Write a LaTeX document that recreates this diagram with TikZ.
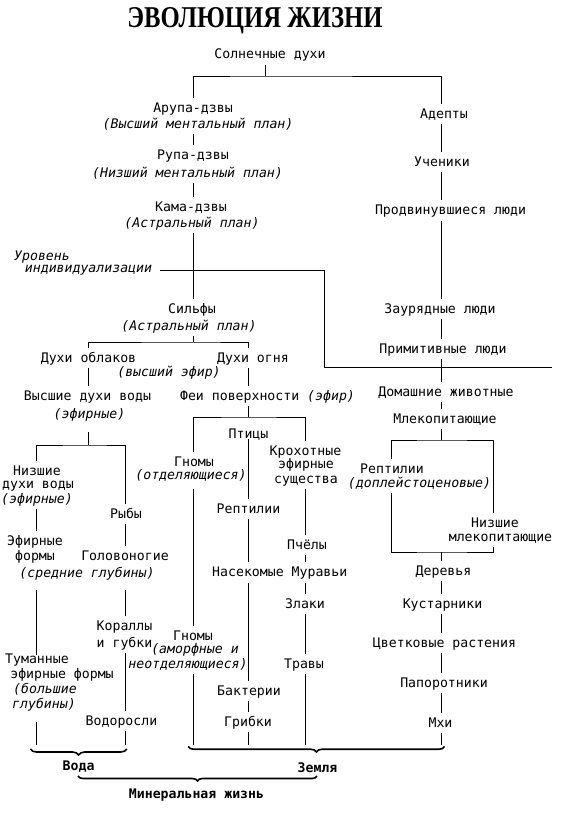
\documentclass[tikz,border=0pt]{standalone}
\usepackage{fontspec}
\usepackage{graphicx}
\usetikzlibrary{decorations.pathreplacing}
\newfontfamily\monofam{DejaVu Sans Mono}[ItalicFont={DejaVu Sans Mono Oblique},BoldFont={DejaVu Sans Mono Bold}]
\newfontfamily\ttlfam{Liberation Serif}[BoldFont={Liberation Serif Bold}]
\newcommand\lblR{\monofam\fontsize{13.2}{15}\selectfont}
\newcommand\lblI{\monofam\itshape\fontsize{13.2}{15}\selectfont}
\newcommand\lblB{\monofam\bfseries\fontsize{13.2}{15}\selectfont}
\tikzset{
  txt/.style={font=\lblR, inner xsep=1pt, inner ysep=4pt, text height=10pt, text depth=2pt, anchor=base},
  itx/.style={txt, font=\lblI},
  btx/.style={txt, font=\lblB},
  ln/.style={line width=1pt},
  brc/.style={decorate, decoration={brace, mirror, amplitude=#1}, line width=1.6pt},
}
\begin{document}
\begin{tikzpicture}[x=1pt,y=-1pt]
\useasboundingbox (0,0) rectangle (560,816);
% columns and junctions
\coordinate (cW) at (36,0);
\coordinate (cV) at (88.5,0);
\coordinate (cF) at (125.3,0);
\coordinate (cA) at (193.3,0);
\coordinate (cM) at (248.3,0);
\coordinate (cK) at (305.7,0);
\coordinate (cP) at (391,0);
\coordinate (cR) at (441.7,0);
\coordinate (cN) at (493.3,0);
\coordinate (bot) at (0,745);
\coordinate (j0) at (265.4,76);
\coordinate (j1) at (193.3,342);
\coordinate (j2) at (88.5,445);
\coordinate (j3) at (248.3,417);
\coordinate (j4) at (441.7,440);
\coordinate (j5) at (441.7,552);
\coordinate (lvl) at (324.3,270);
\coordinate (lvlR) at (552,367);

% title
\node[anchor=base, inner sep=0pt] (title) at (255,28) {\resizebox{255pt}{20pt}{\ttlfam\bfseries ЭВОЛЮЦИЯ ЖИЗНИ}};

% nodes
\node[txt] (sun) at (270,59) {Солнечные духи};
\node[txt] (arupa) at (193,112.5) {Арупа-дзвы};
\node[itx] (arupaN) at (198,128) {(Высший ментальный план)};
\node[txt] (adepts) at (444,118) {Адепты};
\node[txt] (rupa) at (193,159) {Рупа-дзвы};
\node[itx] (rupaN) at (187.5,177) {(Низший ментальный план)};
\node[txt] (kama) at (191,211.5) {Кама-дзвы};
\node[itx] (kamaN) at (192,227) {(Астральный план)};
\node[txt] (uchen) at (442,166) {Ученики};
\node[txt] (prodv) at (450.5,214.5) {Продвинувшиеся люди};
\node[itx] (urov) at (42,260) {Уровень};
\node[itx] (indiv) at (88.5,272.5) {индивидуализации};
\node[txt] (silf) at (192,313) {Сильфы};
\node[itx] (silfN) at (189,330) {(Астральный план)};
\node[txt] (oblak) at (88.5,362) {Духи облаков};
\node[txt] (ogon) at (253,362) {Духи огня};
\node[itx] (vysEfir) at (169,376) {(высший эфир)};
\node[txt] (vysvod) at (87.5,400) {Высшие духи воды};
\node[txt] (fei) at (267.5,400) {Феи поверхности {\lblI(эфир)}};
\node[itx] (vysvodN) at (89.5,418) {(эфирные)};
\node[txt] (zaur) at (440,313) {Заурядные люди};
\node[txt] (prim) at (443,353) {Примитивные люди};
\node[txt] (dom) at (446,396) {Домашние животные};
\node[txt] (mlek) at (445,423) {Млекопитающие};
\node[txt] (ptic) at (248.5,438) {Птицы};
\node[txt] (kroh1) at (305.5,455) {Крохотные};
\node[txt] (kroh2) at (306,468) {эфирные};
\node[txt] (kroh3) at (306,483) {существа};
\node[txt] (gnom1) at (194,466) {Гномы};
\node[itx] (gnom1N) at (191,479) {(отделяющиеся)};
\node[txt] (reptM) at (248.5,513) {Рептилии};
\node[txt] (pchel) at (307,549) {Пчёлы};
\node[txt] (nasek) at (248,576.5) {Насекомые};
\node[txt] (murav) at (319.5,576.5) {Муравьи};
\node[txt] (zlak) at (305,608) {Злаки};
\node[txt] (trav) at (304,668) {Травы};
\node[txt] (gnom2) at (193,640) {Гномы};
\node[itx] (gnom2a) at (195,653) {(аморфные и};
\node[itx] (gnom2b) at (188,668) {неотделяющиеся)};
\node[txt] (bakt) at (249,695) {Бактерии};
\node[txt] (grib) at (248,726) {Грибки};
\node[txt] (nizsh1) at (37,475) {Низшие};
\node[txt] (nizsh2) at (38,488) {духи воды};
\node[itx] (nizsh3) at (37,503) {(эфирные)};
\node[txt] (ryby) at (126,518) {Рыбы};
\node[txt] (efir1) at (35,545) {Эфирные};
\node[txt] (efir2) at (35,560) {формы};
\node[txt] (golov) at (125,560) {Головоногие};
\node[itx] (sredn) at (87,577) {(средние глубины)};
\node[txt] (koral1) at (124.5,630) {Кораллы};
\node[txt] (koral2) at (124.5,647) {и губки};
\node[txt] (tuman1) at (37,663) {Туманные};
\node[txt] (tuman2) at (62,678) {эфирные формы};
\node[itx] (tuman3) at (45,693) {(большие};
\node[itx] (tuman4) at (44,708) {глубины)};
\node[txt] (vodor) at (121.5,725) {Водоросли};
\node[txt] (reptR) at (392,473) {Рептилии};
\node[itx] (reptRN) at (419.5,487) {(доплейстоценовые)};
\node[txt] (nizm1) at (495,527) {Низшие};
\node[txt] (nizm2) at (500.5,541) {млекопитающие};
\node[txt] (derev) at (443.5,575) {Деревья};
\node[txt] (kust) at (442.5,608) {Кустарники};
\node[txt] (cvet) at (444.5,647) {Цветковые растения};
\node[txt] (paporot) at (444,687) {Папоротники};
\node[txt] (mhi) at (440.5,727) {Мхи};
\node[btx] (voda) at (78.6,770) {Вода};
\node[btx] (zemlya) at (317.5,772) {Земля};
\node[btx] (miner) at (196.5,798) {Минеральная жизнь};

% connectors: top part
\draw[ln] (sun.south -| j0) -- (j0);
\draw[ln] (cA |- arupa.north) |- (j0) -| (cR |- adepts.north);
\draw[ln] (cA |- arupaN.south) -- (cA |- rupa.north);
\draw[ln] (cA |- rupaN.south) -- (cA |- kama.north);
\draw[ln] (cA |- kamaN.south) -- (cA |- silf.north);
\draw[ln] (cR |- adepts.south) -- (cR |- uchen.north);
\draw[ln] (cR |- uchen.south) -- (cR |- prodv.north);
\draw[ln] (cR |- prodv.south) -- (cR |- zaur.north);
\draw[ln] (cR |- zaur.south) -- (cR |- prim.north);
\draw[ln] (cR |- prim.south) -- (cR |- dom.north);
\draw[ln] (cR |- dom.south) -- (cR |- mlek.north);
% level of individualisation
\path ([xshift=7pt]indiv.east) coordinate (lvlA);
\draw[ln] (lvlA |- lvl) -- (lvl) |- (lvlR);
% sylphs
\draw[ln] (cA |- silfN.south) -- (j1);
\draw[ln] (cV |- oblak.north) |- (j1) -| (cM |- ogon.north);
\draw[ln] (cV |- oblak.south) -- (cV |- vysvod.north);
\draw[ln] (cM |- ogon.south) -- (cM |- fei.north);
% water branch
\draw[ln, shorten <=8pt] (cV |- vysvodN.south) -- (j2);
\draw[ln] (cW |- nizsh1.north) |- (j2) -| (cF |- ryby.north);
\draw[ln] (cW |- nizsh3.south) -- (cW |- efir1.north);
\draw[ln] (cF |- ryby.south) -- (cF |- golov.north);
\draw[ln, shorten <=7pt, shorten >=-6pt] (cW |- sredn.south) -- (cW |- tuman1.north);
\draw[ln, shorten <=7pt] (cF |- sredn.south) -- (cF |- koral1.north);
\draw[ln] (cF |- koral2.south) -- (cF |- vodor.north);
\draw[ln] (cF |- vodor.south) -- (cF |- bot);
\draw[ln, shorten <=8pt] (cW |- tuman4.south) -- (cW |- bot);
% surface fairies branch
\draw[ln] (cM |- fei.south) -- (j3);
\draw[ln] (cA |- gnom1.north) |- (j3) -| (cK |- kroh1.north);
\draw[ln, shorten <=-5pt] (cM |- ptic.south) -- (cM |- reptM.north);
\draw[ln] (cM |- reptM.south) -- (cM |- nasek.north);
\draw[ln] (cM |- nasek.south) -- (cM |- bakt.north);
\draw[ln] (cM |- bakt.south) -- (cM |- grib.north);
\draw[ln] (cM |- grib.south) -- (cM |- bot);
\draw[ln, shorten <=4pt] (cA |- gnom1N.south) -- (cA |- gnom2.north);
\draw[ln] (cA |- gnom2b.south) -- (cA |- bot);
\draw[ln] (cK |- kroh3.south) -- (cK |- pchel.north);
\draw[ln] (cK |- pchel.south) -- (cK |- murav.north);
\draw[ln] (cK |- murav.south) -- (cK |- zlak.north);
\draw[ln] (cK |- zlak.south) -- (cK |- trav.north);
\draw[ln] (cK |- trav.south) -- (cK |- bot);
% mammals branch
\draw[ln] (cR |- mlek.south) -- (j4);
\draw[ln] (cP |- reptR.north) |- (j4) -| (cN |- nizm1.north);
\draw[ln] (cP |- reptRN.south) |- (j5) -| (cN |- nizm2.south);
\draw[ln] (j5) -- (cR |- derev.north);
\draw[ln] (cR |- derev.south) -- (cR |- kust.north);
\draw[ln] (cR |- kust.south) -- (cR |- cvet.north);
\draw[ln] (cR |- cvet.south) -- (cR |- paporot.north);
\draw[ln] (cR |- paporot.south) -- (cR |- mhi.north);
\draw[ln] (cR |- mhi.south) -- (cR |- bot);

% braces
\coordinate (bVa) at (30.4,749);
\coordinate (bVb) at (126.8,749);
\coordinate (bZa) at (188.2,746.5);
\coordinate (bZb) at (444.6,746.5);
\coordinate (bMa) at (77.9,776);
\coordinate (bMb) at (317,776);
\draw[brc=6pt] (bVa) -- (bVb);
\draw[brc=5.5pt] (bZa) -- (bZb);
\draw[brc=5pt] (bMa) -- (bMb);
\end{tikzpicture}
\end{document}
